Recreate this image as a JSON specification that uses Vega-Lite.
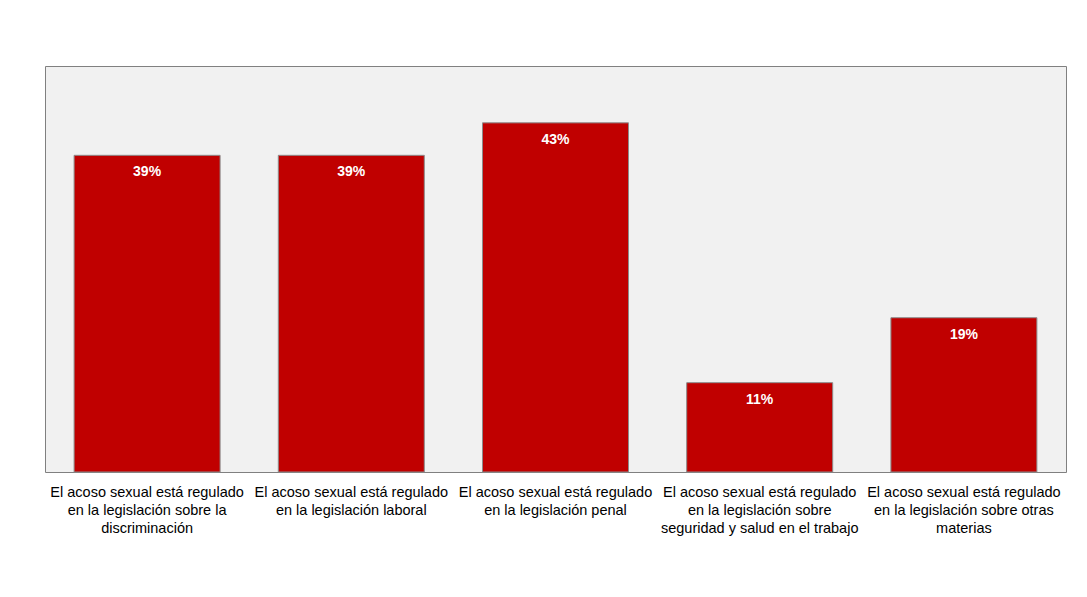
{
  "$schema": "https://vega.github.io/schema/vega-lite/v6.json",
  "autosize": "none",
  "width": 1021,
  "height": 406,
  "padding": {"left": 45, "top": 66, "right": 21, "bottom": 125},
  "background": "white",
  "config": {
    "view": {"fill": "#F1F1F1", "stroke": "#808080", "strokeWidth": 1},
    "font": "Liberation Sans"
  },
  "data": {
    "values": [
      {"cat": "El acoso sexual está regulado|en la legislación sobre la|discriminación", "value": 39, "label": "39%", "order": 1},
      {"cat": "El acoso sexual está regulado|en la legislación laboral", "value": 39, "label": "39%", "order": 2},
      {"cat": "El acoso sexual está regulado|en la legislación penal", "value": 43, "label": "43%", "order": 3},
      {"cat": "El acoso sexual está regulado|en la legislación sobre|seguridad y salud en el trabajo", "value": 11, "label": "11%", "order": 4},
      {"cat": "El acoso sexual está regulado|en la legislación sobre otras|materias", "value": 19, "label": "19%", "order": 5}
    ]
  },
  "encoding": {
    "x": {
      "field": "cat",
      "type": "nominal",
      "sort": {"field": "order"},
      "scale": {"paddingInner": 0.285, "paddingOuter": 0.1425},
      "axis": {
        "title": null,
        "labelAngle": 0,
        "labelExpr": "split(datum.label, '|')",
        "labelFont": "Liberation Sans",
        "labelFontSize": 14.5,
        "labelColor": "#000000",
        "labelLineHeight": 18,
        "labelPadding": 13,
        "labelBaseline": "top",
        "labelLimit": 300,
        "ticks": false,
        "domain": false
      }
    },
    "y": {
      "field": "value",
      "type": "quantitative",
      "scale": {"domain": [0, 50]},
      "axis": null
    }
  },
  "layer": [
    {
      "mark": {"type": "bar", "fill": "#C00000", "stroke": "#8C8C8C", "strokeWidth": 1}
    },
    {
      "mark": {"type": "text", "color": "white", "fontWeight": "bold", "fontSize": 14, "font": "Liberation Sans", "baseline": "top", "dy": 10},
      "encoding": {"text": {"field": "label"}}
    }
  ]
}
